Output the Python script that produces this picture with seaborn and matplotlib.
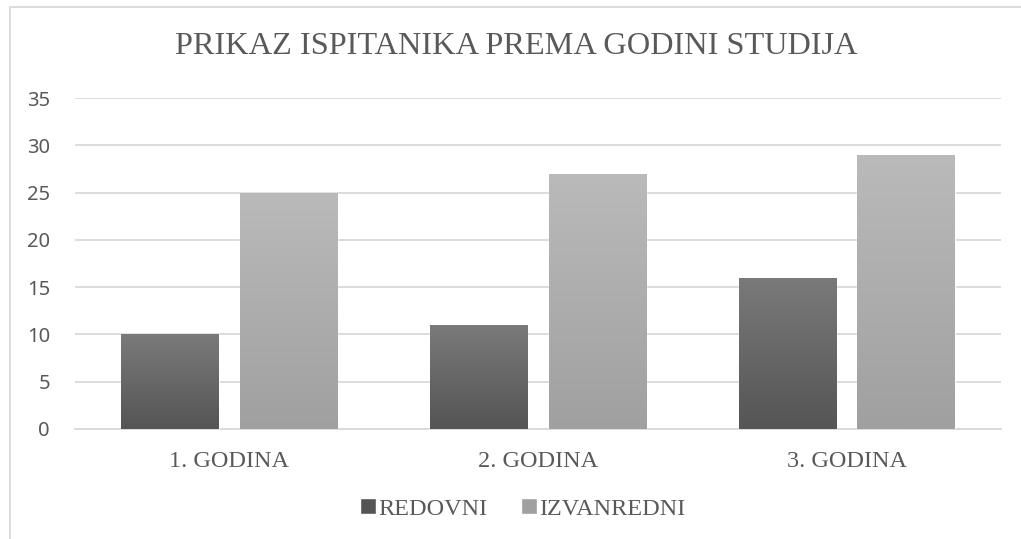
import numpy as np
import pandas as pd
import matplotlib
matplotlib.use("Agg")
import matplotlib.pyplot as plt
import matplotlib.patheffects as pe
from matplotlib.colors import LinearSegmentedColormap
from matplotlib.patches import Patch, Rectangle
import seaborn as sns

categories = ["1. GODINA", "2. GODINA", "3. GODINA"]
redovni = [10, 11, 16]
izvanredni = [25, 27, 29]
series_names = ["REDOVNI", "IZVANREDNI"]
y_ticks = [0, 5, 10, 15, 20, 25, 30, 35]

# gradient (top, bottom) per series
GRADIENTS = {
    "REDOVNI": ("#7a7a7a", "#555555"),
    "IZVANREDNI": ("#bababa", "#a0a0a0"),
}
TEXT = "#595959"
GRID = "#d9d9d9"
SERIF = ["Liberation Serif", "DejaVu Serif"]

df = pd.DataFrame({
    "godina": categories * 2,
    "broj": redovni + izvanredni,
    "vrsta": [series_names[0]] * 3 + [series_names[1]] * 3,
})

sns.set_theme(style="white")
fig = plt.figure(figsize=(10.21, 5.39), dpi=100)
ax = fig.add_axes([75 / 1021, 1 - 429 / 539, 926 / 1021, 331 / 539])

sns.barplot(data=df, x="godina", y="broj", hue="vrsta", order=categories,
            hue_order=series_names, palette=[GRADIENTS[s][1] for s in series_names],
            width=0.77, gap=0.18, ax=ax, legend=False, zorder=3)

# gradient fill clipped to each bar
n = len(categories)
for i, bar in enumerate(ax.patches[:2 * n]):
    name = series_names[i // n]
    top, bottom = GRADIENTS[name]
    cmap = LinearSegmentedColormap.from_list(name, [bottom, top])
    x0, y0 = bar.get_x(), bar.get_y()
    w, h = bar.get_width(), bar.get_height()
    bar.set_path_effects([pe.SimplePatchShadow(offset=(0, 0), shadow_rgbFace="#000000",
                                               alpha=0.12), pe.Normal()])
    grad = np.linspace(0, 1, 256).reshape(-1, 1)
    im = ax.imshow(grad, cmap=cmap, origin="lower", aspect="auto",
                   extent=[x0, x0 + w, y0, y0 + h], zorder=4)
    im.set_clip_path(bar)

ax.set_xlim(-0.5, n - 0.5)
ax.set_ylim(0, 35)
ax.set_yticks(y_ticks)
ax.set_xlabel("")
ax.set_ylabel("")
ax.grid(axis="y", color=GRID, linewidth=1.3, zorder=0)
ax.set_axisbelow(True)
for s in ["top", "right", "left"]:
    ax.spines[s].set_visible(False)
ax.spines["bottom"].set_color(GRID)
ax.spines["bottom"].set_linewidth(1.3)
ax.tick_params(axis="y", length=0, pad=18, labelsize=14.5, labelcolor=TEXT)
ax.tick_params(axis="x", length=0, pad=16, labelsize=17.5, labelcolor=TEXT)
for lab in ax.get_yticklabels():
    lab.set_family(["Noto Sans", "DejaVu Sans"])
for lab in ax.get_xticklabels():
    lab.set_family(SERIF)

fig.text(0.506, 1 - 47 / 539, "PRIKAZ ISPITANIKA PREMA GODINI STUDIJA",
         ha="center", va="center", fontsize=23.3, color=TEXT, family=SERIF)

handles = [Patch(facecolor=GRADIENTS[s][1], label=s) for s in series_names]
fig.legend(handles=handles, loc="center", bbox_to_anchor=(0.512, 1 - 509 / 539),
           ncol=2, frameon=False, handlelength=0.65, handleheight=0.65,
           handletextpad=0.1, columnspacing=1.4,
           prop={"family": SERIF, "size": 17.5}, labelcolor=TEXT)

# chart area border
fig.add_artist(Rectangle((10 / 1021, -0.05), 1.1, 1 - 7 / 539 + 0.05,
                         transform=fig.transFigure, fill=False,
                         edgecolor="#d9d9d9", linewidth=1.3))

fig.savefig("out.png", dpi=100, facecolor="white")
